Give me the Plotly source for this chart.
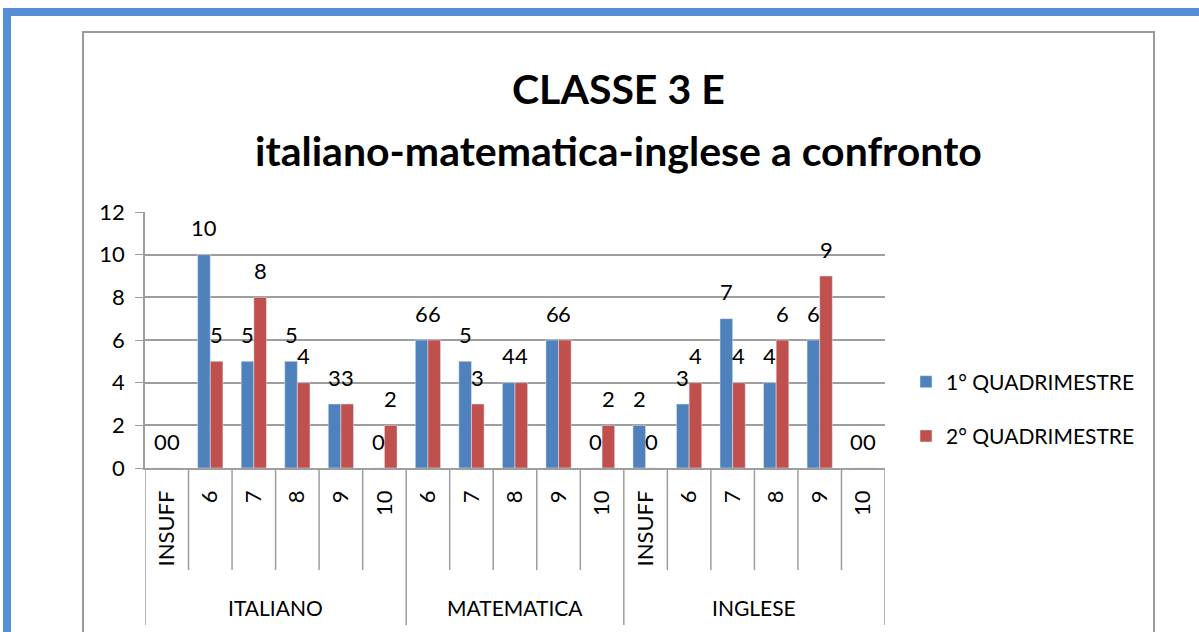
import plotly.graph_objects as go

# ---- data ----
categories = ["INSUFF", "6", "7", "8", "9", "10",
              "6", "7", "8", "9", "10",
              "INSUFF", "6", "7", "8", "9", "10"]
groups = ["ITALIANO"] * 6 + ["MATEMATICA"] * 5 + ["INGLESE"] * 6
q1 = [0, 10, 5, 5, 3, 0, 6, 5, 4, 6, 0, 2, 3, 7, 4, 6, 0]
q2 = [0, 5, 8, 4, 3, 2, 6, 3, 4, 6, 2, 0, 4, 4, 6, 9, 0]
series_names = ["1° QUADRIMESTRE", "2° QUADRIMESTRE"]
title1 = "CLASSE 3 E"
title2 = "italiano-matematica-inglese a confronto"

FONT = "Lato"
W, H = 1199, 632
L, R, T, B = 145, 885, 212, 468
BLUE = "#4f81bd"
RED = "#c0504d"
GRID = "#9e9e9e"
BARGAP = 0.42


def px(xp):
    return (xp - L) / (R - L)


def py(yp):
    return (B - yp) / (B - T)


xs = list(range(len(categories)))

fig = go.Figure()
fig.add_trace(go.Bar(x=xs, y=q1, name=series_names[0], marker_color=BLUE,
                     legendgroup="a"))
fig.add_trace(go.Bar(x=xs, y=q2, name=series_names[1], marker_color=RED,
                     legendgroup="b"))

annotations = []
off = (1 - BARGAP) / 4
for vals, sgn in ((q1, -1), (q2, 1)):
    for i, v in enumerate(vals):
        annotations.append(dict(x=i + sgn * off, y=v, xref="x", yref="y",
                                text=str(v), showarrow=False, yanchor="middle",
                                yshift=27, font=dict(family=FONT, size=22, color="#000")))

# titles
annotations.append(dict(x=px(618), y=py(88), xref="paper", yref="paper", text=title1,
                        showarrow=False, xanchor="center", yanchor="middle",
                        font=dict(family=FONT, size=41, color="#000", weight="bold")))
annotations.append(dict(x=px(618), y=py(150), xref="paper", yref="paper", text=title2,
                        showarrow=False, xanchor="center", yanchor="middle",
                        font=dict(family=FONT, size=41, color="#000", weight="bold")))

shapes = []
# group labels and dividers
group_order = []
for g in groups:
    if g not in group_order:
        group_order.append(g)
start = 0
bounds = [-0.5]
for g in group_order:
    n = groups.count(g)
    center = start + (n - 1) / 2
    annotations.append(dict(x=center, y=py(607), xref="x", yref="paper", text=g,
                            showarrow=False, yanchor="middle",
                            font=dict(family=FONT, size=21, color="#000")))
    start += n
    bounds.append(start - 0.5)
for i in range(len(categories) + 1):
    xb = i - 0.5
    long = any(abs(xb - b) < 1e-9 for b in bounds)
    shapes.append(dict(type="line", xref="x", yref="paper", x0=xb, x1=xb,
                       y0=0, y1=py(625 if long else 570),
                       line=dict(color=GRID, width=1.5)))

# blue frame
shapes.append(dict(type="rect", xref="paper", yref="paper", x0=px(7), x1=px(1260),
                   y0=py(700), y1=py(12), line=dict(color="#558ed5", width=8),
                   fillcolor="rgba(0,0,0,0)", layer="below"))
# chart box
shapes.append(dict(type="rect", xref="paper", yref="paper", x0=px(83), x1=px(1154),
                   y0=py(700), y1=py(32), line=dict(color="#9a9a9a", width=2),
                   fillcolor="rgba(0,0,0,0)", layer="below"))

fig.update_layout(
    width=W, height=H,
    margin=dict(l=L, r=W - R, t=T, b=H - B, autoexpand=False),
    paper_bgcolor="white", plot_bgcolor="white",
    barmode="group", bargap=BARGAP, bargroupgap=0,
    font=dict(family=FONT, size=20, color="#000"),
    annotations=annotations, shapes=shapes,
    legend=dict(x=px(906), y=py(409), xanchor="left", yanchor="middle",
                font=dict(family=FONT, size=21, color="#000"),
                tracegroupgap=24, bgcolor="rgba(0,0,0,0)"),
    showlegend=True,
)
fig.update_xaxes(range=[-0.5, len(categories) - 0.5], tickmode="array", tickvals=xs,
                 ticktext=categories, tickangle=-90, ticks="", showgrid=False,
                 showline=True, linecolor=GRID, linewidth=1.5,
                 tickfont=dict(family=FONT, size=22), ticklabelstandoff=12, fixedrange=True)
fig.update_yaxes(range=[0, 12], dtick=2, showgrid=True, gridcolor=GRID, gridwidth=1.5,
                 showline=True, linecolor=GRID, linewidth=1.5, ticks="outside",
                 ticklen=8, tickcolor=GRID, tickfont=dict(family=FONT, size=22),
                 ticklabelstandoff=6, zeroline=False, fixedrange=True)

fig.write_html("out.html", config={"displayModeBar": False},
               post_script="document.body.style.margin='0';document.body.style.overflow='hidden';")
